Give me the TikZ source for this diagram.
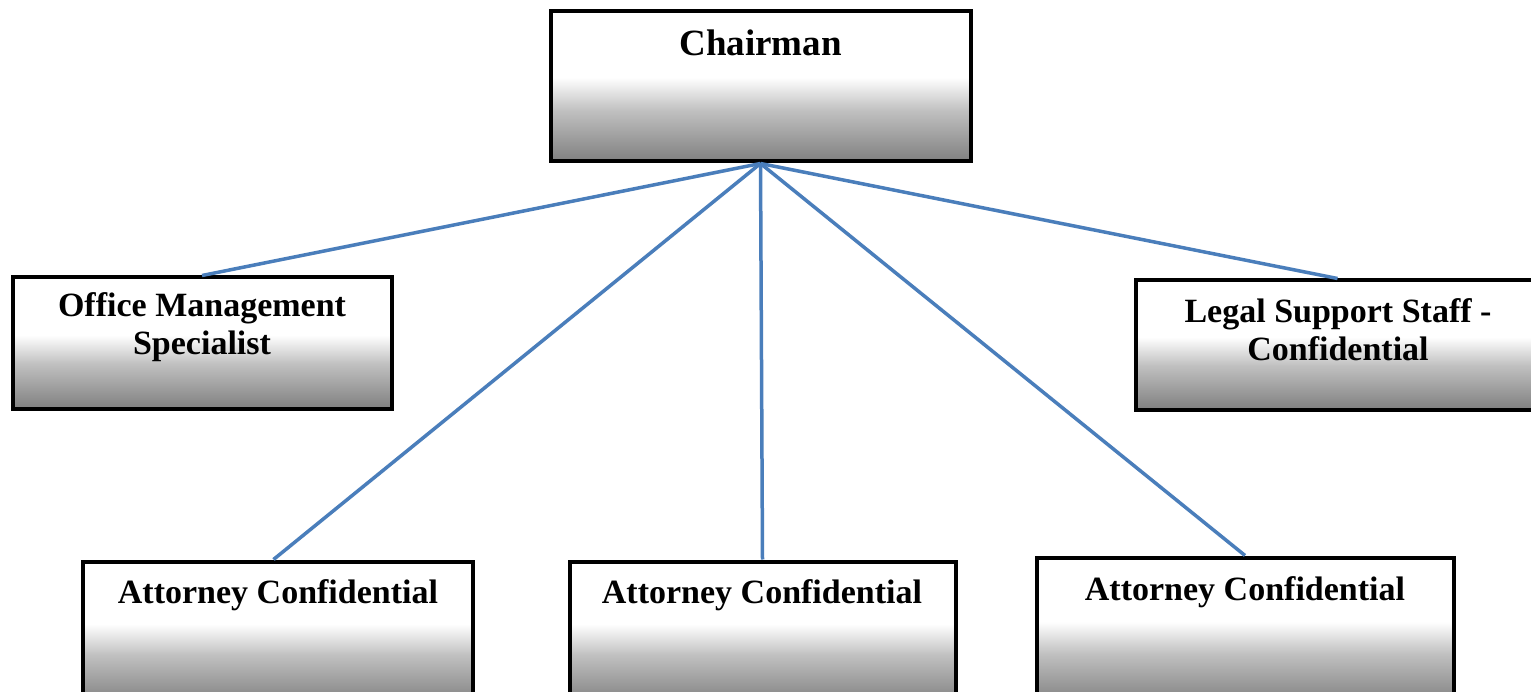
\documentclass[tikz,border=0pt]{standalone}
\usepackage{fontspec}
\setmainfont{Liberation Serif}
\definecolor{linkblue}{HTML}{4A7EBB}
\definecolor{boxbot}{HTML}{808080}
\definecolor{boxmid}{HTML}{C0C0C0}
\pgfdeclareverticalshading{boxshade}{100bp}{color(0bp)=(boxbot); color(25bp)=(boxbot); color(42bp)=(boxmid); color(53bp)=(white); color(100bp)=(white)}
\tikzset{
  orgbox/.style={draw=black, line width=4pt, shading=boxshade, rectangle, inner sep=0pt},
  lbl/.style={font=\bfseries\fontsize{34}{38}\selectfont, align=center, anchor=base, inner sep=0pt},
  link/.style={draw=linkblue, line width=3.5pt}
}
\begin{document}
\begin{tikzpicture}[x=1pt,y=-1pt]
\useasboundingbox (0,0) rectangle (1531,692);
\clip (0,0) rectangle (1531,692);
\fill[white] (0,0) rectangle (1531,692);
\node[orgbox, minimum width=420, minimum height=150] (chair) at (760.5,86.5) {};
\node[orgbox, minimum width=379, minimum height=131] (office) at (202,343) {};
\node[orgbox, minimum width=408, minimum height=129] (legal) at (1339.5,345) {};
\node[orgbox, minimum width=390, minimum height=142] (att1) at (277.5,632.5) {};
\node[orgbox, minimum width=386, minimum height=142] (att2) at (762.5,632.5) {};
\node[orgbox, minimum width=417, minimum height=146] (att3) at (1245,630.5) {};
\node[lbl, font=\bfseries\fontsize{37}{40}\selectfont] (chairT) at (760.5,56) {Chairman};
\node[lbl] (officeT) at (202,355) {Office Management\\Specialist};
\node[lbl] (legalT) at (1338,360) {Legal Support Staff -\\Confidential};
\node[lbl] (att1T) at (278,603) {Attorney Confidential};
\node[lbl] (att2T) at (762,603) {Attorney Confidential};
\node[lbl] (att3T) at (1245,600) {Attorney Confidential};
\draw[link] (chair.south) -- (office.north);
\draw[link] (chair.south) -- ([xshift=-4pt]att1.north);
\draw[link] (chair.south) -- (att2.north);
\draw[link] (chair.south) -- (att3.north);
\draw[link] (chair.south) -- ([xshift=-2pt]legal.north);
\end{tikzpicture}
\end{document}
